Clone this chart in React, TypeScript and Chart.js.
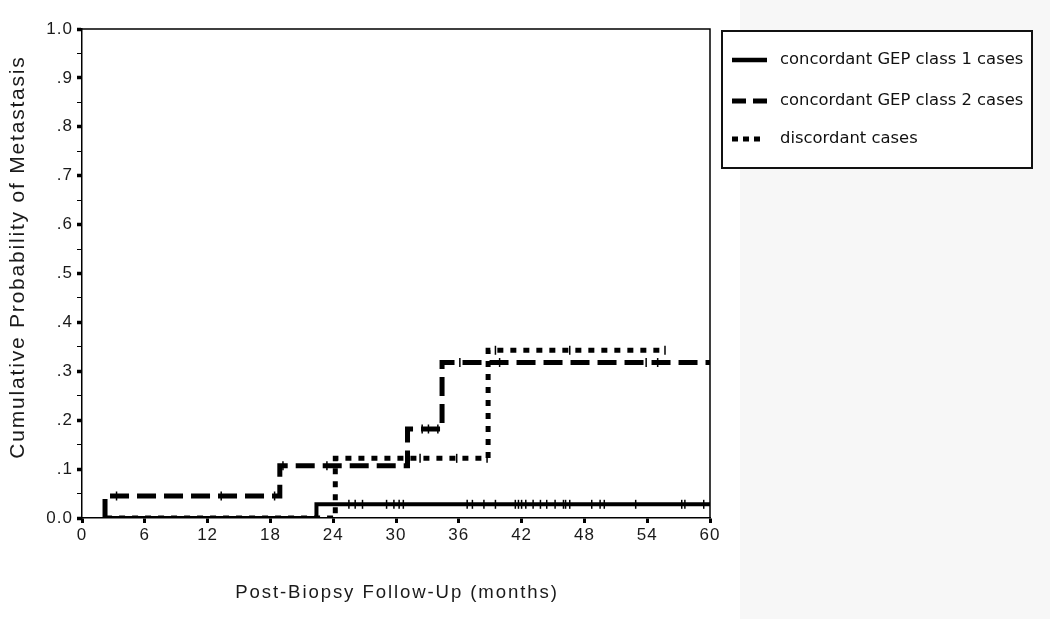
import React, { useEffect, useRef } from "react";
import { Chart, registerables } from "chart.js";

Chart.register(...registerables);

// ---- data ----
const seriesLabels = [
  "concordant GEP class 1 cases",
  "concordant GEP class 2 cases",
  "discordant cases",
];

const class1Times = [2.3, 22.4, 60];
const class1Values = [0, 0.028, 0.028];
const class1Censored = [
  25.5, 26.1, 26.8, 29.1, 29.8, 30.3, 30.7, 36.8, 37.3, 38.4, 39.5, 41.4, 41.7,
  42.0, 42.4, 43.1, 43.8, 44.4, 45.2, 46.0, 46.2, 46.6, 48.7, 49.5, 49.9, 52.9,
  57.3, 57.6, 59.4,
];

const class2Times = [2.2, 2.2, 18.9, 31.1, 34.4, 60];
const class2Values = [0, 0.045, 0.107, 0.182, 0.318, 0.318];
const class2Censored = [3.3, 13.3, 18.4, 19.2, 23.4, 32.5, 33.1, 34.0, 36.1, 39.9, 53.9, 55.0];

const discordantTimes = [2.3, 24.2, 38.8, 55.7];
const discordantValues = [0, 0.122, 0.343, 0.343];
const discordantCensored = [32.3, 35.8, 38.7, 39.5, 46.6, 55.7];

const xTicks = [0, 6, 12, 18, 24, 30, 36, 42, 48, 54, 60];
const xTitle = "Post-Biopsy Follow-Up (months)";
const yTitle = "Cumulative Probability of Metastasis";

// ---- helpers ----
const toPoints = (times: number[], values: number[]) =>
  times.map((t, i) => ({ x: t, y: values[i] }));

const stepValue = (times: number[], values: number[], t: number) => {
  let v = values[0];
  for (let i = 0; i < times.length; i++) {
    if (times[i] <= t) v = values[i];
  }
  return v;
};

const censorPoints = (times: number[], values: number[], cens: number[]) =>
  cens.map((t) => ({ x: t, y: stepValue(times, values, t) }));

const LEFT = 82;
const RIGHT = 710;
const TOP = 29;
const BOTTOM = 518;

const decorPlugin = {
  id: "decor",
  beforeDraw(chart: any) {
    const ctx = chart.ctx;
    ctx.save();
    ctx.fillStyle = "#ffffff";
    ctx.fillRect(0, 0, chart.width, chart.height);
    ctx.fillStyle = "#f7f7f7";
    ctx.fillRect(740, 0, chart.width - 740, chart.height);
    ctx.restore();
    try {
      (ctx as any).letterSpacing = "1px";
    } catch (e) {}
  },
  afterDraw(chart: any) {
    const ctx = chart.ctx;
    const a = chart.chartArea;
    ctx.save();
    (ctx as any).letterSpacing = "0px";
    // frame top & right
    ctx.strokeStyle = "#000";
    ctx.lineWidth = 1.5;
    ctx.beginPath();
    ctx.moveTo(a.left, a.top);
    ctx.lineTo(a.right, a.top);
    ctx.lineTo(a.right, a.bottom);
    ctx.stroke();

    // axis titles
    ctx.fillStyle = "#1a1a1a";
    ctx.textAlign = "center";
    ctx.textBaseline = "middle";
    (ctx as any).letterSpacing = "1.9px";
    ctx.font = "18.6px 'Liberation Sans', Arial, sans-serif";
    ctx.fillText(xTitle, (a.left + a.right) / 2 + 1, 593);

    ctx.save();
    (ctx as any).letterSpacing = "1.8px";
    ctx.translate(18, 257);
    ctx.rotate(-Math.PI / 2);
    ctx.font = "21px 'Liberation Sans', Arial, sans-serif";
    ctx.fillText(yTitle, 0, 0);
    ctx.restore();

    // legend
    (ctx as any).letterSpacing = "0px";
    ctx.fillStyle = "#ffffff";
    ctx.fillRect(722, 31, 310, 137);
    ctx.strokeStyle = "#111";
    ctx.lineWidth = 2;
    ctx.strokeRect(722, 31, 310, 137);

    const rows = [60, 101, 139];
    const dashes = [[], [14, 7], [6, 5]];
    const widths = [4.5, 5, 5];
    ctx.lineCap = "butt";
    rows.forEach((y, i) => {
      ctx.beginPath();
      ctx.setLineDash(dashes[i]);
      ctx.lineWidth = widths[i];
      ctx.strokeStyle = "#000";
      ctx.moveTo(732, y);
      ctx.lineTo(i === 2 ? 764 : 767, y);
      ctx.stroke();
    });
    ctx.setLineDash([]);
    ctx.fillStyle = "#111";
    ctx.textAlign = "left";
    ctx.textBaseline = "middle";
    ctx.font = "16.4px 'DejaVu Sans', sans-serif";
    rows.forEach((y, i) => {
      ctx.fillText(seriesLabels[i], 780, y);
    });
    ctx.restore();
  },
};

export default function App() {
  const ref = useRef<HTMLCanvasElement | null>(null);

  useEffect(() => {
    if (!ref.current) return;
    const lineBase = {
      type: "line" as const,
      stepped: true,
      borderColor: "#000",
      backgroundColor: "#000",
      pointRadius: 0,
      fill: false,
      borderCapStyle: "butt" as const,
      borderJoinStyle: "miter" as const,
    };
    const censorBase = {
      type: "scatter" as const,
      showLine: false,
      pointStyle: "line" as const,
      rotation: 90,
      pointRadius: 4.5,
      borderWidth: 1.5,
      borderColor: "#000",
      backgroundColor: "#000",
      clip: false as any,
    };

    const chart = new Chart(ref.current, {
      type: "line",
      data: {
        datasets: [
          {
            ...lineBase,
            label: seriesLabels[0],
            data: toPoints(class1Times, class1Values),
            borderWidth: 4,
          },
          {
            ...lineBase,
            label: seriesLabels[2],
            data: toPoints(discordantTimes, discordantValues),
            borderWidth: 5,
            borderDash: [6, 7],
          },
          {
            ...lineBase,
            label: seriesLabels[1],
            data: toPoints(class2Times, class2Values),
            borderWidth: 5,
            borderDash: [19, 8],
          },
          { ...censorBase, label: "c1", data: censorPoints(class1Times, class1Values, class1Censored) },
          { ...censorBase, label: "c2", data: censorPoints(class2Times, class2Values, class2Censored) },
          {
            ...censorBase,
            label: "c3",
            data: censorPoints(discordantTimes, discordantValues, discordantCensored),
          },
        ] as any,
      },
      options: {
        animation: false,
        responsive: false,
        maintainAspectRatio: false,
        layout: { padding: { top: TOP, right: 1050 - RIGHT, bottom: 0, left: 0 } },
        plugins: {
          legend: { display: false },
          tooltip: { enabled: false },
          title: { display: false },
        },
        scales: {
          x: {
            type: "linear",
            min: 0,
            max: 60,
            afterBuildTicks: (s: any) => {
              s.ticks = xTicks.map((v) => ({ value: v }));
            },
            ticks: {
              color: "#1a1a1a",
              font: { family: "'Liberation Sans', Arial, sans-serif", size: 17 },
              padding: 2,
              maxRotation: 0,
              autoSkip: false,
            },
            grid: {
              drawOnChartArea: false,
              drawTicks: true,
              tickLength: 5,
              tickWidth: 3,
              tickColor: "#000",
            },
            border: { color: "#000", width: 1.5 },
            afterFit: (s: any) => {
              s.height = 619 - BOTTOM;
            },
          },
          y: {
            type: "linear",
            min: 0,
            max: 1,
            ticks: {
              stepSize: 0.05,
              color: "#1a1a1a",
              font: { family: "'Liberation Sans', Arial, sans-serif", size: 17 },
              padding: 4,
              autoSkip: false,
              callback: (v: any) => {
                const n = Math.round(Number(v) * 100);
                if (n % 10 !== 0) return "";
                if (n === 0) return "0.0";
                if (n === 100) return "1.0";
                return "." + n / 10;
              },
            },
            grid: {
              drawOnChartArea: false,
              drawTicks: true,
              tickLength: 5,
              tickWidth: (c: any) => (Math.round(c.tick.value * 100) % 10 === 0 ? 3.5 : 1),
              tickColor: "#000",
            },
            border: { color: "#000", width: 1.5 },
            afterFit: (s: any) => {
              s.width = LEFT;
            },
          },
        },
      } as any,
      plugins: [decorPlugin],
    });
    return () => chart.destroy();
  }, []);

  return (
    <div style={{ position: "fixed", left: 0, top: 0, width: 1050, height: 619 }}>
      <canvas ref={ref} width={1050} height={619} style={{ display: "block" }} />
    </div>
  );
}
